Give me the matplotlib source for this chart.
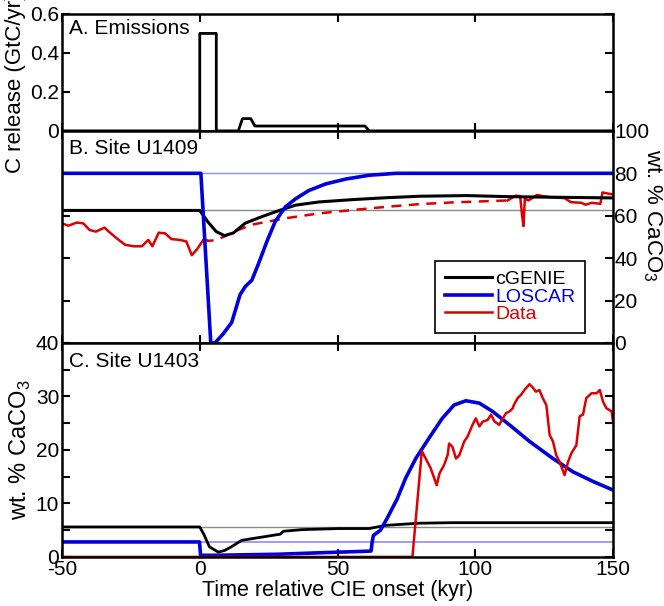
import matplotlib
matplotlib.use("Agg")
import matplotlib.pyplot as plt
from matplotlib.ticker import MultipleLocator

plt.rcParams['font.family'] = ['Liberation Sans', 'DejaVu Sans']
plt.rcParams['font.size'] = 15
plt.rcParams['axes.unicode_minus'] = False
plt.rcParams['mathtext.fontset'] = 'custom'
plt.rcParams['mathtext.rm'] = 'Liberation Sans'

BLUE = '#0000dd'
RED = '#dd0000'
LIGHTBLUE = '#8c8cf0'
GRAY = '#8a8a8a'

# A. emissions (GtC/yr)
em_t = [-50, 0, 0, 6, 6, 14, 15.5, 18.5, 20, 60, 61.5, 150]
em_c = [0, 0, 0.5, 0.5, 0, 0, 0.063, 0.063, 0.025, 0.025, 0, 0]

# B. Site U1409 (wt. % CaCO3)
b_base_genie = 62.5
b_base_loscar = 80
b_genie_t = [-50, 0, 3, 6, 9, 12.2, 16.5, 22.6, 28.7, 34.8, 43.3, 55.5, 67.7, 80, 97, 112, 130, 150]
b_genie = [62.5, 62.5, 57, 52.5, 50.6, 51.9, 56.5, 59.6, 62.4, 65, 66.5, 67.6, 68.5, 69.2, 69.5, 69, 68.7, 68.4]
b_loscar_t = [-50, 0.4, 4.0, 5.5, 8.5, 11.6, 14.6, 16.5, 18.9, 21.3, 24.4, 27.4, 31.1, 34.8, 39.6,
              45.7, 53, 61.6, 71.3, 150]
b_loscar = [80, 80, 0, 0, 4.3, 9.7, 22.7, 26.6, 29.6, 37.3, 48, 57.3, 64.2, 68, 71.9,
            75, 77.3, 79.1, 80, 80]
b_data_pre_t = [-50, -47.7, -44.6, -42.3, -40, -37.7, -34.6, -33, -30.2, -27.1, -24, -21, -18.7,
                -17.2, -14.9, -12.6, -10.3, -7.2, -4.9, -2.9, -1.1, 0.5, 1.5]
b_data_pre = [56.4, 55.3, 56.8, 56.4, 53.3, 52.5, 54.4, 52.5, 49.4, 46.3, 45.6, 45.6, 48.6,
              45.6, 52.0, 51.7, 49, 48.6, 47.9, 41.4, 44, 47.1, 49]
b_gap_t = [1.5, 3, 6, 12.8, 18.9, 31.1, 43.3, 55.5, 67.7, 80, 92, 111.7]
b_gap = [49, 48.2, 48.4, 52.7, 55.8, 58.8, 61.1, 62.7, 64.2, 65.5, 66.3, 67.2]
b_data_post_t = [111.7, 114.7, 116.3, 117, 117.5, 118, 119.3, 122.4, 124.7, 127.8, 132.4, 134.7,
                 138.5, 140, 142.3, 145.4, 146.2, 148, 150]
b_data_post = [67.2, 69.5, 69.2, 60.2, 55.1, 68, 67.2, 69.8, 69.2, 68.7, 68.3, 66.4,
               66.1, 65.2, 66.1, 65.6, 71, 70.5, 70]

# C. Site U1403 (wt. % CaCO3)
c_base_genie = 5.6
c_base_loscar = 2.8
c_genie_t = [-50, 0, 1.5, 3.5, 6.7, 9, 11.5, 15.2, 18.8, 24.9, 29.2, 30.4, 37, 50.4, 61.4, 67.4,
             79.6, 91.7, 150]
c_genie = [5.6, 5.6, 4.2, 1.9, 0.9, 1.2, 1.9, 3.1, 3.4, 3.9, 4.25, 4.8, 5.1, 5.3, 5.3, 5.9,
           6.3, 6.4, 6.4]
c_loscar_t = [-50, -0.1, 0.3, 5, 28.5, 45, 60, 62.2, 62.5, 63, 65.6, 68, 71.7, 74.7, 78.4, 83.2,
              88, 92.3, 96.6, 101.5, 106.3, 112.4, 119.7, 128.2, 135.5, 142.8, 150]
c_loscar = [2.8, 2.8, 0.3, 0.3, 0.5, 0.8, 1.05, 1.1, 2.5, 4.0, 5.0, 7.2, 10.9, 14.7, 18.4, 22.2,
            25.9, 28.4, 29.2, 28.75, 27.2, 24.7, 21.6, 18.4, 15.9, 14.1, 12.5]
c_data_t = [-50, 77.2, 80.6, 82, 83.8, 86, 87, 88.7, 90, 90.5, 91.7, 93, 94.2, 96, 97.2, 99,
            100.2, 101.5, 102.7, 104.5, 105.7, 107, 108.7, 110, 111.2, 112.4, 113.6, 114, 115.4,
            116.6, 117.9, 119.7, 121, 122, 123.3, 124.5, 125.8, 127, 128.2, 129.4, 130.6, 132.4,
            133.7, 134.9, 136.7, 137.9, 139.1, 140.3, 142.2, 144, 145.2, 146.4, 147.6, 149.5, 150]
c_data = [0, 0, 19.8, 18.4, 16.6, 13.4, 15.6, 17.2, 19.1, 21.2, 20.6, 18.4, 19, 21.6, 22.5, 24.7,
          25.9, 24.4, 25.3, 25.6, 26.6, 25.3, 24.7, 25.9, 26.9, 27.2, 27.8, 28.4, 29.7,
          30.3, 31.25, 32.3, 31.6, 30.9, 31.2, 29.7, 28.4, 22.8, 21.6, 19, 17.8, 15.3,
          17.8, 19.4, 20.9, 26.3, 26.6, 29.7, 30.6, 30.6, 31.2, 29, 27.8, 27.2, 25.3]

xticks = [-50, 0, 50, 100, 150]

fig = plt.figure(figsize=(6.64, 6.06), dpi=100)
L, W = 0.0934, 0.8298
axA = fig.add_axes([L, 0.784, W, 0.193])
axB = fig.add_axes([L, 0.434, W, 0.350])
axC = fig.add_axes([L, 0.081, W, 0.353])


def style(ax):
    ax.set_xlim(-50, 150)
    ax.set_xticks(xticks)
    for s in ax.spines.values():
        s.set_linewidth(1.8)
    ax.tick_params(direction='in', length=6, width=1.5, top=True, right=True, pad=2)


# A
axA.plot(em_t, em_c, color='black', lw=2)
style(axA)
axA.set_ylim(0, 0.6)
axA.set_yticks([0, 0.2, 0.4, 0.6])
axA.set_yticklabels(['0', '0.2', '0.4', '0.6'])
axA.tick_params(labelbottom=False)
axA.set_ylabel('C release (GtC/yr)', fontsize=16, ha='left')
axA.yaxis.set_label_coords(-0.066, -0.36)
axA.text(0.013, 0.96, 'A. Emissions', transform=axA.transAxes, ha='left', va='top')

# B
axB.axhline(b_base_loscar, color=LIGHTBLUE, lw=1)
axB.axhline(b_base_genie, color=GRAY, lw=1)
axB.plot(b_data_pre_t, b_data_pre, color=RED, lw=1.8)
axB.plot(b_gap_t, b_gap, color=RED, lw=1.8, ls=(0, (4, 3)))
axB.plot(b_data_post_t, b_data_post, color=RED, lw=1.8)
lg, = axB.plot(b_genie_t, b_genie, color='black', lw=2.2, label='cGENIE')
ll, = axB.plot(b_loscar_t, b_loscar, color=BLUE, lw=2.6, label='LOSCAR')
ld, = axB.plot([], [], color=RED, lw=1.8, label='Data')
style(axB)
axB.set_ylim(0, 100)
axB.set_yticks([0, 20, 40, 60, 80, 100])
axB.tick_params(labelbottom=False, labelleft=False, labelright=True, pad=1)
axB.yaxis.set_label_position('right')
axB.set_ylabel('wt. % CaCO$_3$', rotation=270, fontsize=16, va='center', ha='center',
               rotation_mode='default')
axB.yaxis.set_label_coords(1.071, 0.6)
axB.text(0.013, 0.96, 'B. Site U1409', transform=axB.transAxes, ha='left', va='top')
leg = axB.legend(handles=[lg, ll, ld], loc='lower right', bbox_to_anchor=(0.95, 0.047),
                 borderaxespad=0, fancybox=False, edgecolor='black', framealpha=1,
                 handlelength=2.4, handletextpad=0.2, fontsize=14, borderpad=0.5,
                 labelspacing=0.0)
leg.get_frame().set_linewidth(1.2)
for txt, c in zip(leg.get_texts(), ['black', BLUE, RED]):
    txt.set_color(c)

# C
axC.axhline(c_base_loscar, color=LIGHTBLUE, lw=1.2)
axC.axhline(c_base_genie, color=GRAY, lw=1)
axC.plot(c_genie_t, c_genie, color='black', lw=2)
axC.plot(c_loscar_t, c_loscar, color=BLUE, lw=2.6)
axC.plot(c_data_t, c_data, color=RED, lw=1.8)
style(axC)
axC.set_ylim(0, 40)
axC.yaxis.set_major_locator(MultipleLocator(10))
axC.yaxis.set_minor_locator(MultipleLocator(5))
axC.tick_params(which='minor', direction='in', length=6, width=1.5, right=True)
axC.set_ylabel('wt. % CaCO$_3$', fontsize=17)
axC.yaxis.set_label_coords(-0.052, 0.5)
axC.set_xlabel('Time relative CIE onset (kyr)', fontsize=15.5, labelpad=1)
axC.text(0.013, 0.96, 'C. Site U1403', transform=axC.transAxes, ha='left', va='top')

fig.savefig('out.png', dpi=100)
